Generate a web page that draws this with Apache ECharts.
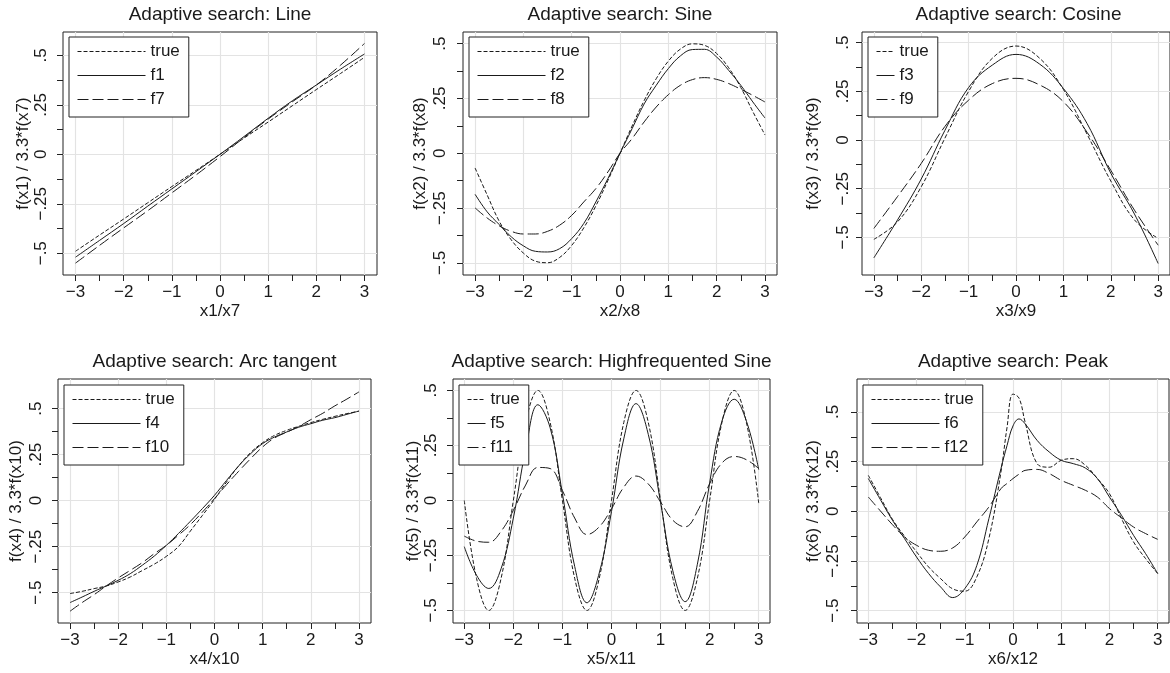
<!DOCTYPE html>
<html>
<head>
<meta charset="utf-8">
<script src="https://cdn.jsdelivr.net/npm/echarts@6/dist/echarts.min.js"></script>
<style>
  html, body { margin: 0; padding: 0; background: #fff; }
  #chart { width: 1170px; height: 673px; }
</style>
</head>
<body>
<div id="chart"></div>
<script>
const xHalf = [-3, -2.5, -2, -1.5, -1, -0.5, 0, 0.5, 1, 1.5, 2, 2.5, 3];
const xQuarter = [-3, -2.75, -2.5, -2.25, -2, -1.75, -1.5, -1.25, -1, -0.75, -0.5, -0.25, 0,
  0.25, 0.5, 0.75, 1, 1.25, 1.5, 1.75, 2, 2.25, 2.5, 2.75, 3];
const xPeak = [-3, -2.75, -2.5, -2.25, -2, -1.75, -1.5, -1.25, -1, -0.75, -0.5, -0.25, -0.125, 0,
  0.125, 0.25, 0.5, 0.75, 1, 1.25, 1.5, 1.75, 2, 2.25, 2.5, 2.75, 3];

// Line (xHalf)
const lineTrue = [-0.49, -0.408, -0.327, -0.245, -0.163, -0.082, 0, 0.082, 0.163, 0.245, 0.327, 0.408, 0.49];
const lineF1 = [-0.52, -0.435, -0.35, -0.262, -0.175, -0.088, 0, 0.09, 0.182, 0.27, 0.35, 0.43, 0.507];
const lineF7 = [-0.55, -0.46, -0.372, -0.285, -0.195, -0.105, -0.012, 0.085, 0.178, 0.265, 0.35, 0.45, 0.56];

// Sine (xQuarter)
const sineTrue = [-0.067, -0.19, -0.31, -0.395, -0.455, -0.492, -0.499, -0.475, -0.42, -0.34, -0.24, -0.124, 0,
  0.124, 0.24, 0.34, 0.42, 0.475, 0.499, 0.492, 0.455, 0.39, 0.3, 0.19, 0.084];
const sineF2 = [-0.187, -0.267, -0.325, -0.381, -0.422, -0.447, -0.45, -0.435, -0.389, -0.32, -0.222, -0.115, 0,
  0.112, 0.225, 0.31, 0.386, 0.444, 0.473, 0.474, 0.439, 0.378, 0.31, 0.234, 0.161];
const sineF8 = [-0.249, -0.295, -0.331, -0.356, -0.368, -0.368, -0.356, -0.328, -0.283, -0.222, -0.161, -0.085, 0,
  0.067, 0.143, 0.211, 0.267, 0.31, 0.336, 0.345, 0.337, 0.318, 0.292, 0.264, 0.234];

// Cosine (xHalf)
const cosTrue = [-0.51, -0.42, -0.24, 0.01, 0.25, 0.42, 0.483, 0.42, 0.26, 0.03, -0.21, -0.41, -0.505];
const cosF3 = [-0.605, -0.41, -0.2, 0.05, 0.27, 0.385, 0.44, 0.39, 0.265, 0.085, -0.17, -0.38, -0.634];
const cosF9 = [-0.454, -0.29, -0.12, 0.07, 0.205, 0.29, 0.317, 0.283, 0.197, 0.04, -0.155, -0.36, -0.54];

// Arc tangent (xQuarter)
const atanTrue = [-0.505, -0.493, -0.478, -0.464, -0.442, -0.415, -0.38, -0.345, -0.303, -0.25, -0.165, -0.08, 0.007,
  0.101, 0.188, 0.261, 0.315, 0.355, 0.382, 0.404, 0.424, 0.442, 0.458, 0.473, 0.486];
const atanF4 = [-0.554, -0.524, -0.493, -0.464, -0.433, -0.397, -0.351, -0.301, -0.243, -0.179, -0.112, -0.043, 0.029,
  0.11, 0.188, 0.255, 0.31, 0.346, 0.373, 0.399, 0.418, 0.437, 0.451, 0.469, 0.487];
const atanF10 = [-0.601, -0.554, -0.511, -0.464, -0.42, -0.379, -0.337, -0.288, -0.243, -0.188, -0.13, -0.062, 0.011,
  0.087, 0.159, 0.228, 0.292, 0.341, 0.372, 0.403, 0.44, 0.475, 0.515, 0.552, 0.591];

// Highfrequented sine (xQuarter)
const hfTrue = [0, -0.354, -0.5, -0.354, 0, 0.354, 0.5, 0.354, 0, -0.354, -0.5, -0.354, 0,
  0.354, 0.5, 0.354, 0, -0.354, -0.5, -0.354, 0, 0.354, 0.5, 0.354, -0.012];
const hfF5 = [-0.21, -0.34, -0.4, -0.31, -0.08, 0.23, 0.435, 0.33, 0.03, -0.3, -0.465, -0.33, -0.05,
  0.28, 0.44, 0.3, -0.01, -0.32, -0.46, -0.29, 0.08, 0.36, 0.46, 0.36, 0.14];
const hfF11 = [-0.162, -0.185, -0.19, -0.14, -0.045, 0.07, 0.15, 0.145, 0.045, -0.08, -0.155, -0.12, -0.038,
  0.06, 0.111, 0.075, -0.007, -0.09, -0.12, -0.05, 0.076, 0.17, 0.2, 0.185, 0.145];

// Peak (xPeak)
const peakTrue = [0.181, 0.07, -0.04, -0.125, -0.204, -0.28, -0.339, -0.39, -0.402, -0.33, -0.137, 0.198, 0.42, 0.59,
  0.57, 0.45, 0.24, 0.222, 0.257, 0.265, 0.232, 0.165, 0.089, -0.037, -0.154, -0.238, -0.313];
const peakF6 = [0.165, 0.059, -0.045, -0.137, -0.23, -0.313, -0.381, -0.434, -0.389, -0.272, -0.037, 0.215, 0.33, 0.43,
  0.465, 0.441, 0.357, 0.299, 0.257, 0.24, 0.218, 0.165, 0.072, -0.02, -0.121, -0.213, -0.313];
const peakF12 = [0.072, 0.002, -0.067, -0.129, -0.171, -0.196, -0.201, -0.184, -0.129, -0.053, 0.022, 0.114, 0.14, 0.165,
  0.187, 0.206, 0.211, 0.19, 0.156, 0.131, 0.106, 0.072, 0.014, -0.033, -0.079, -0.112, -0.141];

// ticks and labels
const xTickValues = [-3, -2.5, -2, -1.5, -1, -0.5, 0, 0.5, 1, 1.5, 2, 2.5, 3];
const xLabelValues = [-3, -2, -1, 0, 1, 2, 3];
const xLabelText = ['\u22123', '\u22122', '\u22121', '0', '1', '2', '3'];
const yTickValues = [-0.5, -0.375, -0.25, -0.125, 0, 0.125, 0.25, 0.375, 0.5];
const yLabelValues = [-0.5, -0.25, 0, 0.25, 0.5];
const yLabelText = ['\u2212.5', '\u2212.25', '0', '.25', '.5'];

const FONT = '"Liberation Sans", Arial, Helvetica, sans-serif';
const INK = '#1a1a1a';
const DASH = { true: [4, 2], fit: 'solid', alt: [11, 4] };

const panels = [
  {
    title: 'Adaptive search: Line', xName: 'x1/x7', yName: 'f(x1) / 3.3*f(x7)', xs: xHalf,
    lines: [['true', lineTrue, 'true'], ['f1', lineF1, 'fit'], ['f7', lineF7, 'alt']],
    box: [63, 32, 314, 243], xr: [-3.26, 3.26], yr: [-0.61, 0.618],
    yNameGap: 31, yLabelMargin: 13, legend: [69, 37, 68]
  },
  {
    title: 'Adaptive search: Sine', xName: 'x2/x8', yName: 'f(x2) / 3.3*f(x8)', xs: xQuarter,
    lines: [['true', sineTrue, 'true'], ['f2', sineF2, 'fit'], ['f8', sineF8, 'alt']],
    box: [463, 32, 314, 243], xr: [-3.25, 3.25], yr: [-0.555, 0.553],
    yNameGap: 34, yLabelMargin: 14, legend: [469, 37, 68]
  },
  {
    title: 'Adaptive search: Cosine', xName: 'x3/x9', yName: 'f(x3) / 3.3*f(x9)', xs: xHalf,
    lines: [['true', cosTrue, 'true'], ['f3', cosF3, 'fit'], ['f9', cosF9, 'alt']],
    box: [862, 32, 313, 243], xr: [-3.25, 3.25], yr: [-0.693, 0.555],
    yNameGap: 40, yLabelMargin: 10, legend: [868, 37, 18]
  },
  {
    title: 'Adaptive search: Arc tangent', xName: 'x4/x10', yName: 'f(x4) / 3.3*f(x10)', xs: xQuarter,
    lines: [['true', atanTrue, 'true'], ['f4', atanF4, 'fit'], ['f10', atanF10, 'alt']],
    box: [58, 379, 313, 244], xr: [-3.25, 3.25], yr: [-0.665, 0.661],
    yNameGap: 33, yLabelMargin: 13, legend: [64, 385, 68]
  },
  {
    title: 'Adaptive search: Highfrequented Sine', xName: 'x5/x11', yName: 'f(x5) / 3.3*f(x11)', xs: xQuarter,
    lines: [['true', hfTrue, 'true'], ['f5', hfF5, 'fit'], ['f11', hfF11, 'alt']],
    box: [453, 379, 317, 244], xr: [-3.23, 3.23], yr: [-0.557, 0.552],
    yNameGap: 29, yLabelMargin: 13, legend: [459, 385, 18]
  },
  {
    title: 'Adaptive search: Peak', xName: 'x6/x12', yName: 'f(x6) / 3.3*f(x12)', xs: xPeak,
    lines: [['true', peakTrue, 'true'], ['f6', peakF6, 'fit'], ['f12', peakF12, 'alt']],
    box: [857, 379, 312, 244], xr: [-3.235, 3.235], yr: [-0.562, 0.666],
    yNameGap: 35, yLabelMargin: 15, legend: [863, 385, 68]
  }
];

const textStyle = { fontFamily: FONT, fontSize: 17, color: INK };

const option = {
  animation: false,
  backgroundColor: '#fff',
  title: [],
  legend: [],
  grid: [],
  xAxis: [],
  yAxis: [],
  series: []
};

panels.forEach((p, i) => {
  const [left, top, width, height] = p.box;
  option.title.push({
    text: p.title,
    left: left + width / 2,
    top: top - 27,
    textAlign: 'center',
    padding: 0,
    textStyle: { fontFamily: FONT, fontSize: 19, fontWeight: 'normal', color: INK }
  });
  option.grid.push({
    left, top, width, height,
    show: true,
    borderColor: '#222',
    borderWidth: 1,
    backgroundColor: 'transparent'
  });
  option.xAxis.push({
    type: 'value',
    gridIndex: i,
    min: p.xr[0],
    max: p.xr[1],
    name: p.xName,
    nameLocation: 'middle',
    nameGap: 28,
    nameTextStyle: textStyle,
    axisLine: { show: false, onZero: false },
    axisTick: { show: true, length: 6, customValues: xTickValues, lineStyle: { color: '#222' } },
    axisLabel: {
      show: true,
      customValues: xLabelValues,
      margin: 9,
      formatter: v => xLabelText[xLabelValues.indexOf(v)],
      ...textStyle
    },
    splitLine: { show: false }
  });
  option.yAxis.push({
    type: 'value',
    gridIndex: i,
    min: p.yr[0],
    max: p.yr[1],
    name: p.yName,
    nameLocation: 'middle',
    nameGap: p.yNameGap,
    nameTextStyle: textStyle,
    axisLine: { show: false, onZero: false },
    axisTick: { show: true, length: 6, customValues: yTickValues, lineStyle: { color: '#222' } },
    axisLabel: {
      show: true,
      customValues: yLabelValues,
      rotate: 90,
      margin: p.yLabelMargin,
      formatter: v => yLabelText[yLabelValues.indexOf(v)],
      ...textStyle
    },
    splitLine: { show: false }
  });
  option.legend.push({
    data: p.lines.map(l => l[0]),
    orient: 'vertical',
    left: p.legend[0],
    top: p.legend[1],
    itemWidth: p.legend[2],
    itemHeight: 14,
    itemGap: 7,
    padding: [6, 9, 9, 8],
    borderColor: '#222',
    borderWidth: 1,
    borderRadius: 0,
    backgroundColor: '#fff',
    selectedMode: false,
    itemStyle: { opacity: 0 },
    lineStyle: { width: 1 },
    textStyle: textStyle
  });
  p.lines.forEach((l, k) => {
    const s = {
      name: l[0],
      type: 'line',
      xAxisIndex: i,
      yAxisIndex: i,
      data: p.xs.map((x, j) => [x, l[1][j]]),
      smooth: 0.4,
      symbol: 'none',
      silent: true,
      color: INK,
      lineStyle: { color: INK, width: 1, type: DASH[l[2]] },
      z: 3
    };
    if (k === 0) {
      // light reference grid at the labelled ticks
      s.markLine = {
        silent: true,
        symbol: ['none', 'none'],
        label: { show: false },
        z: 1,
        animation: false,
        lineStyle: { color: '#e3e3e3', type: 'solid', width: 1.2 },
        emphasis: { disabled: true },
        data: xLabelValues.map(v => ({ xAxis: v })).concat(yLabelValues.map(v => ({ yAxis: v })))
      };
    }
    option.series.push(s);
  });
});

const chart = echarts.init(document.getElementById('chart'));
chart.setOption(option);
window.addEventListener('resize', () => chart.resize());
</script>
</body>
</html>
